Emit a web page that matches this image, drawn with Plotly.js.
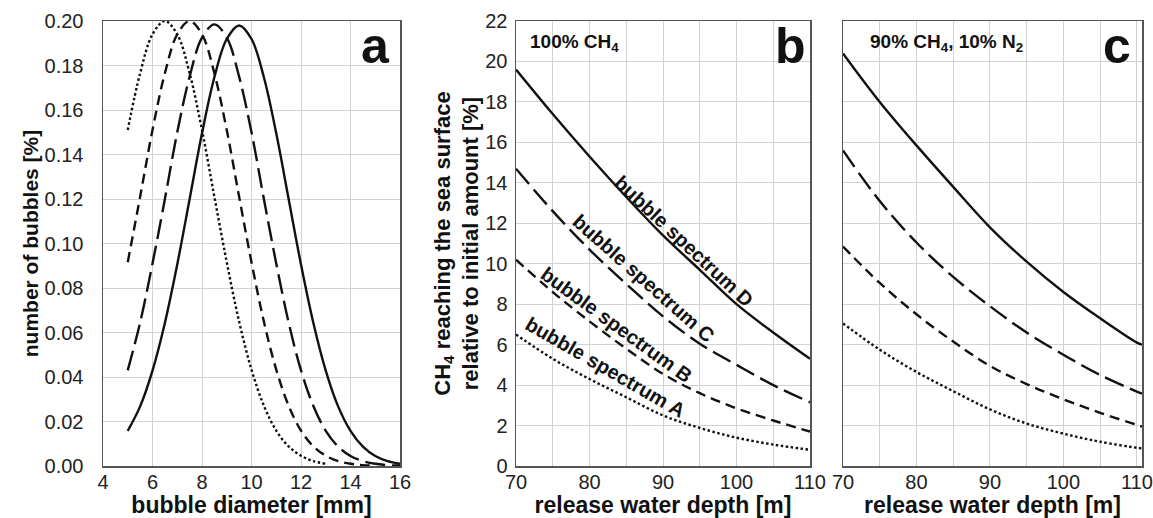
<!DOCTYPE html>
<html>
<head>
<meta charset="utf-8">
<script src="https://cdn.plot.ly/plotly-3.0.1.min.js"></script>
<style>
  html, body { margin: 0; padding: 0; background: #fff; }
  #chart { width: 1153px; height: 518px; }
</style>
</head>
<body>
<div id="chart"></div>
<script>
// ---------- Panel a: bubble size spectra ----------
const diameter = [5, 5.5, 6, 6.5, 7, 7.5, 8, 8.5, 9, 9.5, 10, 10.5, 11, 11.5, 12, 12.5, 13, 13.5, 14, 14.5, 15, 15.5, 16];
const spectrumA = [0.151, 0.1765, 0.194, 0.200, 0.194, 0.1765, 0.151, 0.121, 0.0916, 0.0649, 0.0433, 0.0271, 0.0159, 0.0088, 0.0046, 0.0022, 0.0010];
const spectrumB = [0.0916, 0.121, 0.151, 0.1765, 0.194, 0.200, 0.194, 0.1765, 0.151, 0.121, 0.0916, 0.0649, 0.0433, 0.0271, 0.0159, 0.0088, 0.0046, 0.0022, 0.0010, 0.0004, 0.0002];
const spectrumC = [0.043, 0.0645, 0.091, 0.120, 0.150, 0.175, 0.1925, 0.1985, 0.1925, 0.175, 0.150, 0.120, 0.091, 0.0645, 0.043, 0.027, 0.0158, 0.0087, 0.0045, 0.0022, 0.0010, 0.0004, 0.0002];
const spectrumD = [0.0158, 0.0268, 0.0429, 0.0643, 0.0906, 0.120, 0.1495, 0.1747, 0.1919, 0.198, 0.1919, 0.1747, 0.1495, 0.120, 0.0906, 0.0643, 0.0429, 0.0268, 0.0158, 0.0087, 0.0045, 0.0022, 0.0010];

// ---------- Panel b: 100% CH4 ----------
const depthB = [70, 75, 80, 85, 90, 95, 100, 105, 110];
const ch4A_b = [6.5, 5.3, 4.3, 3.4, 2.5, 1.88, 1.4, 1.06, 0.8];
const ch4B_b = [10.2, 8.6, 7.15, 5.8, 4.55, 3.6, 2.85, 2.25, 1.7];
const ch4C_b = [14.7, 12.6, 10.7, 9.0, 7.4, 6.05, 5.0, 4.0, 3.15];
const ch4D_b = [19.6, 17.4, 15.3, 13.3, 11.4, 9.7, 8.0, 6.6, 5.3];

// ---------- Panel c: 90% CH4, 10% N2 ----------
const depthC = [70, 75, 80, 85, 90, 95, 100, 105, 110, 110.7];
const ch4A_c = [7.05, 5.75, 4.65, 3.7, 2.8, 2.1, 1.6, 1.2, 0.9, 0.87];
const ch4B_c = [10.85, 9.05, 7.5, 6.15, 4.95, 4.05, 3.3, 2.63, 2.03, 1.95];
const ch4C_c = [15.6, 13.1, 11.05, 9.35, 7.9, 6.6, 5.5, 4.5, 3.68, 3.58];
const ch4D_c = [20.4, 18.0, 15.85, 13.8, 11.8, 10.1, 8.6, 7.3, 6.1, 6.0];

const spectrumNames = ['bubble spectrum A', 'bubble spectrum B', 'bubble spectrum C', 'bubble spectrum D'];
const xTicksA = [4, 6, 8, 10, 12, 14, 16];
const xTicksBC = [70, 80, 90, 100, 110];

// ---------- styling ----------
const FONT = 'Liberation Sans, Arial, Helvetica, sans-serif';
const INK = '#111';
const dashes = ['2.5px,2.5px', '10px,6px', '20px,7px', 'solid'];
const LW = 2.4;

function mk(x, y, i, xa, ya) {
  return {
    x: x, y: y, type: 'scatter', mode: 'lines', name: spectrumNames[i],
    xaxis: xa, yaxis: ya, showlegend: false, hoverinfo: 'x+y+name',
    line: { color: INK, width: LW, dash: dashes[i], shape: 'spline', smoothing: 1 }
  };
}

const traces = [
  mk(diameter, spectrumA, 0, 'x', 'y'),
  mk(diameter, spectrumB, 1, 'x', 'y'),
  mk(diameter, spectrumC, 2, 'x', 'y'),
  mk(diameter, spectrumD, 3, 'x', 'y'),
  mk(depthB, ch4A_b, 0, 'x2', 'y2'),
  mk(depthB, ch4B_b, 1, 'x2', 'y2'),
  mk(depthB, ch4C_b, 2, 'x2', 'y2'),
  mk(depthB, ch4D_b, 3, 'x2', 'y2'),
  mk(depthC, ch4A_c, 0, 'x3', 'y3'),
  mk(depthC, ch4B_c, 1, 'x3', 'y3'),
  mk(depthC, ch4C_c, 2, 'x3', 'y3'),
  mk(depthC, ch4D_c, 3, 'x3', 'y3')
];

const W = 1153, H = 518;
const yDom = [(H - 466) / H, (H - 21) / H];
const GRID = '#d2d2d2';
const LINE = '#555';
const tickFont = { family: FONT, size: 20, color: '#222' };
const titleFont = { family: FONT, size: 23, color: INK };

function xAxis(dom, range, tickvals, title, minorDtick, anchor) {
  const ax = {
    domain: dom, range: range, anchor: anchor,
    tickmode: 'array', tickvals: tickvals, ticktext: tickvals.map(String),
    showgrid: true, gridcolor: GRID, gridwidth: 1,
    zeroline: false, showline: true, mirror: true, linecolor: LINE, linewidth: 1.5,
    ticks: '', tickfont: tickFont, ticklabelstandoff: -3, fixedrange: true,
    title: { text: '<b>' + title + '</b>', font: titleFont, standoff: 6 }
  };
  if (minorDtick) ax.minor = { dtick: minorDtick, showgrid: true, gridcolor: GRID, gridwidth: 1 };
  return ax;
}

const layout = {
  width: W, height: H,
  margin: { l: 0, r: 0, t: 0, b: 0 },
  paper_bgcolor: '#fff', plot_bgcolor: '#fff',
  font: { family: FONT, color: INK },
  showlegend: false,
  xaxis: xAxis([103 / W, 400 / W], [4, 16], xTicksA, 'bubble diameter [mm]', null, 'y'),
  xaxis2: xAxis([516 / W, 810 / W], [70, 110], xTicksBC, 'release water depth [m]', 5, 'y2'),
  xaxis3: xAxis([843 / W, 1142 / W], [70, 110.7], xTicksBC, 'release water depth [m]', 5, 'y3'),
  yaxis: {
    domain: yDom, range: [0, 0.2], anchor: 'x', dtick: 0.02, tick0: 0, tickformat: '.2f',
    showgrid: true, gridcolor: GRID, zeroline: false, showline: true, mirror: true,
    linecolor: LINE, linewidth: 1.5, ticks: '', tickfont: tickFont, ticklabelstandoff: 14,
    fixedrange: true,
    title: { text: '<b>number of bubbles [%]</b>', font: { family: FONT, size: 21, color: INK }, standoff: 0 }
  },
  yaxis2: {
    domain: yDom, range: [0, 22], anchor: 'x2', dtick: 2, tick0: 0,
    showgrid: true, gridcolor: GRID, zeroline: false, showline: true, mirror: true,
    linecolor: LINE, linewidth: 1.5, ticks: '', tickfont: tickFont, ticklabelstandoff: 3,
    fixedrange: true,
    title: { text: '<b>CH<sub>4</sub> reaching the sea surface<br>relative to initial amount [%]</b>',
             font: { family: FONT, size: 22, color: INK }, standoff: 0 }
  },
  yaxis3: {
    domain: yDom, range: [0, 22], anchor: 'x3', dtick: 2, tick0: 0,
    showgrid: true, gridcolor: GRID, zeroline: false, showline: true, mirror: true,
    linecolor: LINE, linewidth: 1.5, ticks: '', showticklabels: false, fixedrange: true
  },
  annotations: [
    { xref: 'paper', yref: 'paper', x: 375 / W, y: 1 - 46 / H, text: '<b>a</b>', showarrow: false,
      xanchor: 'center', yanchor: 'middle', font: { family: FONT, size: 50, color: INK } },
    { xref: 'paper', yref: 'paper', x: 790 / W, y: 1 - 46 / H, text: '<b>b</b>', showarrow: false,
      xanchor: 'center', yanchor: 'middle', font: { family: FONT, size: 50, color: INK } },
    { xref: 'paper', yref: 'paper', x: 1117 / W, y: 1 - 46 / H, text: '<b>c</b>', showarrow: false,
      xanchor: 'center', yanchor: 'middle', font: { family: FONT, size: 50, color: INK } },
    { xref: 'paper', yref: 'paper', x: 528 / W, y: 1 - 43 / H, text: '<b>100% CH<sub>4</sub></b>', showarrow: false,
      xanchor: 'left', yanchor: 'middle', font: { family: FONT, size: 19, color: INK } },
    { xref: 'paper', yref: 'paper', x: 868 / W, y: 1 - 43 / H, text: '<b>90% CH<sub>4</sub>, 10% N<sub>2</sub></b>', showarrow: false,
      xanchor: 'left', yanchor: 'middle', font: { family: FONT, size: 19, color: INK } },
    { xref: 'x2', yref: 'y2', x: 92.8, y: 11.1, text: '<b>' + spectrumNames[3] + '</b>', textangle: 43, showarrow: false,
      xanchor: 'center', yanchor: 'middle', font: { family: FONT, size: 20, color: INK } },
    { xref: 'x2', yref: 'y2', x: 87.3, y: 9.28, text: '<b>' + spectrumNames[2] + '</b>', textangle: 41.5, showarrow: false,
      xanchor: 'center', yanchor: 'middle', font: { family: FONT, size: 20, color: INK } },
    { xref: 'x2', yref: 'y2', x: 83.7, y: 6.97, text: '<b>' + spectrumNames[1] + '</b>', textangle: 36, showarrow: false,
      xanchor: 'center', yanchor: 'middle', font: { family: FONT, size: 20, color: INK } },
    { xref: 'x2', yref: 'y2', x: 82.1, y: 4.88, text: '<b>' + spectrumNames[0] + '</b>', textangle: 30, showarrow: false,
      xanchor: 'center', yanchor: 'middle', font: { family: FONT, size: 20, color: INK } }
  ]
};

Plotly.newPlot('chart', traces, layout, { staticPlot: true, displayModeBar: false });
</script>
</body>
</html>
